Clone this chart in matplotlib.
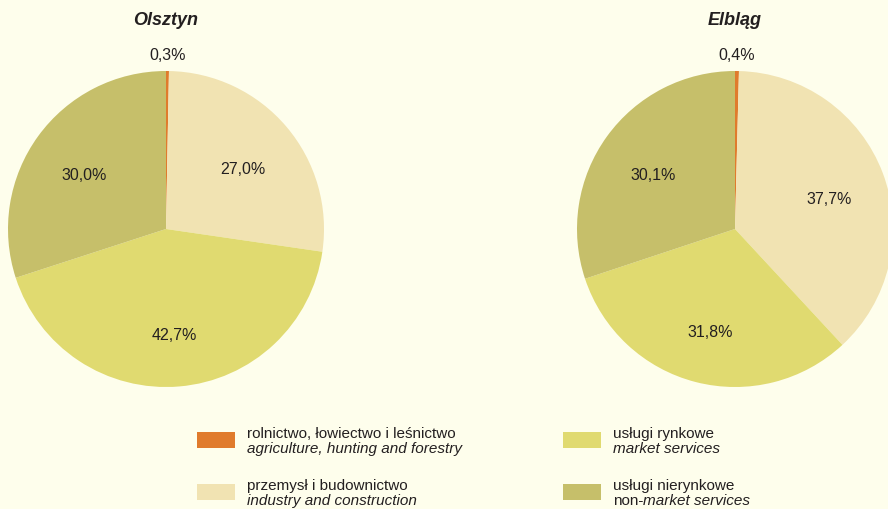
import numpy as np
import matplotlib
matplotlib.use('Agg')
import matplotlib.pyplot as plt
from matplotlib.patches import Rectangle

plt.rcParams['font.family'] = ['Liberation Sans', 'DejaVu Sans']

# data
cities = ['Olsztyn', 'Elbląg']
olsztyn = [0.3, 27.0, 42.7, 30.0]
elblag = [0.4, 37.7, 31.8, 30.1]
sectors_pl = ['rolnictwo, łowiectwo i leśnictwo', 'przemysł i budownictwo',
              'usługi rynkowe', 'usługi nierynkowe']
sectors_en = ['agriculture, hunting and forestry', 'industry and construction',
              'market services', 'market services']
colors = ['#E07B2C', '#F1E3B2', '#E0DA70', '#C6BF6A']

bg = '#FEFEEC'
txt = '#231F20'
W, H = 888, 509

fig = plt.figure(figsize=(W / 100, H / 100), dpi=100, facecolor=bg)


def draw_pie(values, title, cx, cy, r, pad=1.05):
    ax = fig.add_axes([(cx - r * pad) / W, 1 - (cy + r * pad) / H,
                       2 * r * pad / W, 2 * r * pad / H])
    wedges, _ = ax.pie(values, colors=colors, startangle=90, counterclock=False,
                       wedgeprops=dict(linewidth=0))
    ax.set_xlim(-pad, pad)
    ax.set_ylim(-pad, pad)
    ax.axis('off')
    for w, v in zip(wedges, values):
        w.set_clip_on(False)
        ang = np.deg2rad((w.theta1 + w.theta2) / 2)
        if v < 1:
            d, dy = 1.1, 0
        else:
            d, dy = 0.64, 6 / r  # inner labels sit a bit below mid-angle
        ax.text(d * np.cos(ang), d * np.sin(ang) - dy, f'{v:.1f}%'.replace('.', ','),
                ha='center', va='center', fontsize=11.5, color=txt, clip_on=False)
    ax.text(0, (cy - 21) / r, title, ha='center', va='center', fontsize=13,
            fontweight='bold', fontstyle='italic', color=txt, clip_on=False)
    return ax


draw_pie(olsztyn, cities[0], 166, 229, 158)
draw_pie(elblag, cities[1], 735, 229, 158)

# legend
slots = [(197, 432), (197, 484), (563, 432), (563, 484)]
for i, (x, y) in enumerate(slots):
    fig.patches.append(Rectangle((x / W, 1 - (y + 16) / H), 38 / W, 16 / H,
                                 transform=fig.transFigure, facecolor=colors[i],
                                 edgecolor='none'))
    tx = (x + 50) / W
    fig.text(tx, 1 - (y + 6) / H, sectors_pl[i], fontsize=11, color=txt,
             va='baseline', ha='left')
    if i == 3:
        t = fig.text(tx, 1 - (y + 21) / H, 'non-', fontsize=11, color=txt,
                     va='baseline', ha='left')
        fig.canvas.draw()
        bb = t.get_window_extent()
        fig.text(bb.x1 / W, 1 - (y + 21) / H, sectors_en[i], fontsize=11,
                 color=txt, va='baseline', ha='left', fontstyle='italic')
    else:
        fig.text(tx, 1 - (y + 21) / H, sectors_en[i], fontsize=11, color=txt,
                 va='baseline', ha='left', fontstyle='italic')

fig.savefig('out.png', dpi=100, facecolor=bg)
